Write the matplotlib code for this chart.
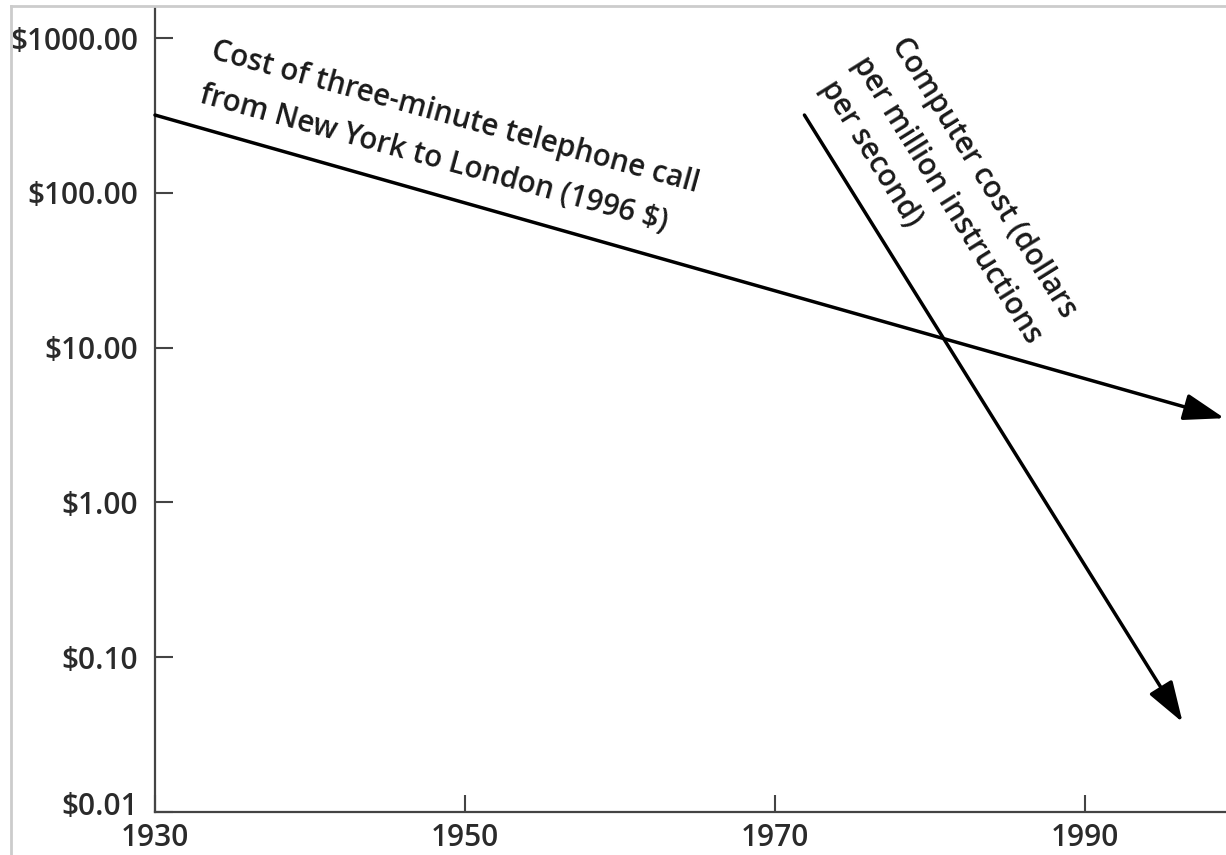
import matplotlib
matplotlib.use("Agg")
import matplotlib.pyplot as plt
import matplotlib.transforms as mtransforms
from matplotlib.lines import Line2D
from matplotlib.ticker import FixedLocator

plt.rcParams['font.family'] = ['Open Sans', 'DejaVu Sans']

# Trend lines (start and end of each arrow)
phone_years = [1930, 1999.0]
phone_cost = [318.0, 3.5]
computer_years = [1971.9, 1996.3]
computer_cost = [318.0, 0.038]

y_ticks = [1000, 100, 10, 1, 0.1, 0.01]
y_labels = ["$1000.00", "$100.00", "$10.00", "$1.00", "$0.10", "$0.01"]
x_ticks = [1930, 1950, 1970, 1990]
x_labels = ["1930", "1950", "1970", "1990"]

phone_text = ["Cost of three-minute telephone call",
              "from New York to London (1996 $)"]
computer_text = ["Computer cost (dollars",
                 "per million instructions",
                 "per second)"]

W, H = 1226, 855
fig = plt.figure(figsize=(W / 100, H / 100), dpi=100)
ax = fig.add_axes([155 / W, (H - 812) / H, (W - 155) / W, (812 - 8) / H])

ax.set_yscale('log')
ax.set_xlim(1930, 1999.1)
ax.set_ylim(0.01, 1563)

for s in ['top', 'right']:
    ax.spines[s].set_visible(False)
for s in ['left', 'bottom']:
    ax.spines[s].set_color('#444444')
    ax.spines[s].set_linewidth(1.6)

ax.yaxis.set_major_locator(FixedLocator(y_ticks))
ax.set_yticklabels(y_labels)
ax.yaxis.set_minor_locator(FixedLocator([]))
ax.set_xticks(x_ticks)
ax.set_xticklabels(x_labels)

ax.tick_params(axis='y', direction='in', length=13, width=1.5, color='#444444',
               pad=12, labelsize=21.5, labelcolor='#2a2a2a')
ax.tick_params(axis='x', direction='in', length=12, width=1.5, color='#444444',
               pad=8, labelsize=21.5, labelcolor='#2a2a2a')
for lab in ax.get_yticklabels() + ax.get_xticklabels():
    lab.set_fontweight('semibold')

# lift the bottom y label clear of the 1930 label
bottom_lab = ax.get_yticklabels()[-1]
bottom_lab.set_transform(bottom_lab.get_transform() +
                         mtransforms.ScaledTranslation(0, 9 / 100, fig.dpi_scale_trans))

arrow_kw = dict(arrowstyle='-|>,head_length=1.0,head_width=0.33',
                color='black', lw=2.5, mutation_scale=25,
                shrinkA=0, shrinkB=0)
ax.annotate('', xy=(phone_years[1], phone_cost[1]),
            xytext=(phone_years[0], phone_cost[0]),
            arrowprops=arrow_kw, annotation_clip=False)
ax.annotate('', xy=(computer_years[1], computer_cost[1]),
            xytext=(computer_years[0], computer_cost[0]),
            arrowprops=arrow_kw, annotation_clip=False)

# Line labels, set along each trend
txt_kw = dict(fontsize=21.3, color='#1a1a1a', fontweight='semibold',
              ha='left', va='baseline', rotation_mode='anchor')
ax.text(1933.55, 743, phone_text[0], rotation=-15.4, **txt_kw)
ax.text(1932.77, 386, phone_text[1], rotation=-15.4, **txt_kw)
ax.text(1977.48, 914, computer_text[0], rotation=-58, **txt_kw)
ax.text(1974.97, 689, computer_text[1], rotation=-58, **txt_kw)
ax.text(1972.9, 482, computer_text[2], rotation=-58, **txt_kw)

# light frame on the top and left edges
fig.add_artist(Line2D([11 / W, 11 / W], [0, 1 - 6 / H], transform=fig.transFigure,
                      color='#cccccc', lw=2))
fig.add_artist(Line2D([11 / W, 1], [1 - 6 / H, 1 - 6 / H], transform=fig.transFigure,
                      color='#cccccc', lw=2))

fig.savefig('out.png', dpi=100)
